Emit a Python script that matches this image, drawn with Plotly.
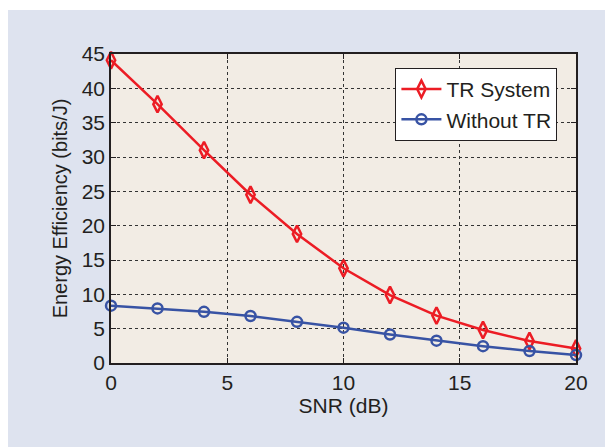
import plotly.graph_objects as go

snr = [0, 2, 4, 6, 8, 10, 12, 14, 16, 18, 20]
tr_system = [44.1, 37.7, 31.0, 24.5, 18.8, 13.8, 9.9, 6.9, 4.8, 3.2, 2.1]
without_tr = [8.35, 7.95, 7.45, 6.85, 6.0, 5.15, 4.15, 3.25, 2.45, 1.75, 1.15]

x_ticks = [0, 5, 10, 15, 20]
y_ticks = [0, 5, 10, 15, 20, 25, 30, 35, 40, 45]

font_color = "#231F20"
panel = "#DEE3EF"
FONT = "Liberation Sans, Arial, sans-serif"

fig = go.Figure()
fig.add_trace(go.Scatter(
    x=snr, y=tr_system, name="TR System", mode="lines+markers",
    line=dict(color="#EC1C24", width=2.5),
    marker=dict(symbol="diamond-tall-open", size=12, color="#EC1C24", line=dict(width=2.5, color="#EC1C24")),
    cliponaxis=False,
))
fig.add_trace(go.Scatter(
    x=snr, y=without_tr, name="Without TR", mode="lines+markers",
    line=dict(color="#3853A4", width=2.5),
    marker=dict(symbol="circle-open", size=10, color="#3853A4", line=dict(width=2.5, color="#3853A4")),
    cliponaxis=False,
))

axis_common = dict(
    showline=True, linecolor="#231F20", linewidth=1.5, mirror="ticks",
    ticks="inside", ticklen=5, tickcolor="#231F20",
    showgrid=True, gridcolor="#333333", griddash="dot", gridwidth=1,
    zeroline=False,
    tickfont=dict(size=21, color=font_color, family=FONT),
)

fig.update_layout(
    width=613, height=447,
    margin=dict(l=103, r=45, t=46, b=92),
    paper_bgcolor=panel,
    plot_bgcolor="#F2ECE4",
    font=dict(family=FONT, color=font_color, size=21),
    xaxis=dict(axis_common, range=[0, 20], tickvals=x_ticks,
               title=dict(text="SNR (dB)", font=dict(size=21), standoff=4)),
    yaxis=dict(axis_common, range=[0, 45], tickvals=y_ticks,
               title=dict(text="Energy Efficiency (bits/J)", font=dict(size=20), standoff=9)),
    legend=dict(
        x=0.96, y=0.955, xanchor="right", yanchor="top",
        bgcolor="white", bordercolor="#231F20", borderwidth=1,
        font=dict(size=21, color=font_color),
        tracegroupgap=0, itemwidth=40,
    ),
    showlegend=True,
    shapes=[
        dict(type="rect", xref="paper", yref="paper", x0=-0.30, x1=1.20, y0=1.1424, y1=1.20,
             fillcolor="white", line=dict(width=0), layer="below"),
    ],
)

fig.write_html("out.html")
